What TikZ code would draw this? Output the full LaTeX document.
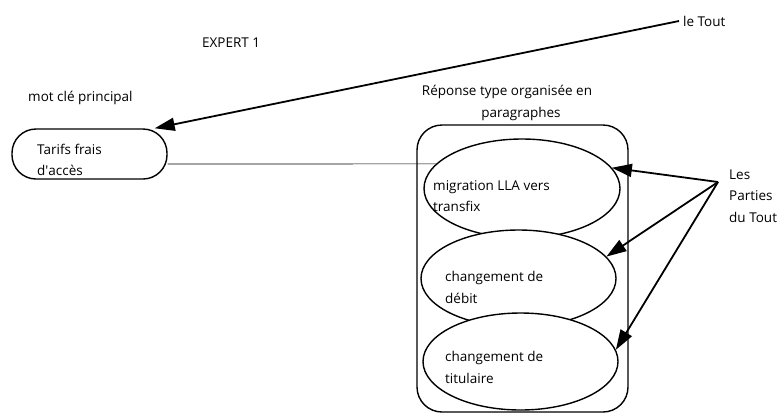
\documentclass[tikz,border=0pt]{standalone}
\usepackage{fontspec}
\setmainfont{Open Sans}
\usetikzlibrary{shapes.geometric,arrows.meta}
\tikzset{
  txt/.style={font=\fontsize{13.5}{21.5}\selectfont, inner sep=0pt, anchor=west, align=left},
  bulle/.style={ellipse, draw, line width=1.4pt, fill=white, inner sep=0pt},
  fleche/.style={line width=1.8pt, -{Triangle[length=20pt,width=13pt]}},
}

\begin{document}
\begin{tikzpicture}[x=1pt,y=-1pt]
        \useasboundingbox (0,0) rectangle (778,418);
        %titres
            \node[txt] (expert) at (202,43) {EXPERT 1};
            \node[txt] (motcle) at (28,98) {mot clé principal};
            \node[txt] (tout) at (683,21) {le Tout};
            \node[txt,anchor=center] (rep1) at (507,92) {Réponse type organisée en};
            \node[txt,anchor=center] (rep2) at (521,114) {paragraphes};
            \node[txt] (parties) at (729,196) {Les\\Parties\\du Tout};
        %mot clé
            \node[draw,line width=1.4pt,rounded corners=24pt,minimum width=155pt,minimum height=50pt] (tarifs) at (89.5,154) {};
            \node[txt] (tarifstxt) at (37,160) {Tarifs frais\\d\textquotesingle accès};
        %réponse en paragraphes
            \node[draw,line width=1.4pt,rounded corners=25pt,minimum width=211pt,minimum height=287pt] (reponse) at (522.5,268.5) {};
            \node[bulle,minimum width=196pt,minimum height=99pt] (e1) at (522,188.5) {};
            \node[bulle,minimum width=195pt,minimum height=97pt] (e2) at (518.5,278.5) {};
            \node[bulle,minimum width=195pt,minimum height=97pt] (e3) at (520.5,361.5) {};
            \node[txt] (e1txt) at (433,196) {migration LLA vers\\transfix};
            \node[txt] (e2txt) at (445,287.5) {changement de\\débit};
            \node[txt] (e3txt) at (445,367.5) {changement de\\titulaire};
        %liens
            \draw[line width=0.7pt] ([yshift=-10pt]tarifs.east) -- (e1.164);
            \draw[fleche] ([xshift=-4pt]tout.west) -- ([xshift=-13pt]tarifs.north east);
            \coordinate (pointe) at (718,182);
            \draw[fleche] (pointe) -- (e1.13);
            \draw[fleche] (pointe) -- (e2.14);
            \draw[fleche] (pointe) -- (e3.7);
\end{tikzpicture}
\end{document}
